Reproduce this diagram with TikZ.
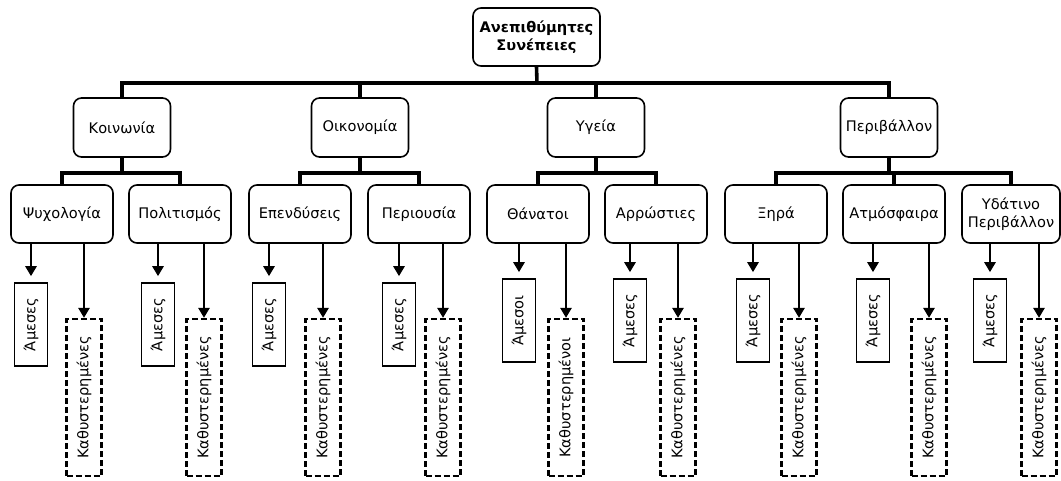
\documentclass[tikz,border=0pt]{standalone}
\usepackage{fontspec}
\setmainfont{DejaVu Sans}
\usetikzlibrary{arrows.meta}
\begin{document}
\begin{tikzpicture}[x=1pt,y=-1pt,
  font=\fontsize{14.6}{18}\selectfont,
  line join=miter,
  topbox/.style={draw, line width=1.6pt, rounded corners=8pt, inner sep=0pt,
    align=center, minimum width=127pt, minimum height=58pt, font=\fontsize{14.6}{18}\selectfont\bfseries},
  catbox/.style={draw, line width=1.6pt, rounded corners=8pt, inner sep=0pt,
    align=center, minimum width=97pt, minimum height=59pt},
  subbox/.style={draw, line width=1.6pt, rounded corners=8pt, inner sep=0pt,
    align=center, minimum height=58pt},
  directbox/.style={draw, line width=1.6pt, inner sep=0pt,
    minimum width=33pt, minimum height=83pt},
  delaybox/.style={draw, line width=2.2pt, dash pattern=on 6pt off 3pt, inner sep=0pt,
    minimum width=35pt, minimum height=157pt},
  bus/.style={line width=3.6pt},
  arr/.style={line width=2.6pt, -{Triangle[width=11pt,length=10pt]}}
]
\useasboundingbox (0,0) rectangle (1061,480);

% root
\node[topbox] (top) at (536.5,37) {Ανεπιθύμητες\\Συνέπειες};

% categories
\node[catbox] (c1) at (122,127.5) {Κοινωνία};
\node[catbox] (c2) at (360,127.5) {Οικονομία};
\node[catbox] (c3) at (596,127.5) {Υγεία};
\node[catbox] (c4) at (889,127.5) {Περιβάλλον};

% root to categories
\coordinate (topbus) at (537,83);
\draw[bus] (top.south) -- (topbus);
\draw[bus] (c1.north) |- (topbus) -| (c4.north);
\draw[bus] (c2.north) -- (c2.north |- topbus);
\draw[bus] (c3.north) -- (c3.north |- topbus);

% sub-categories with their direct and delayed effects
\foreach \i/\sx/\sw/\txt/\ax/\ay/\dx/\atxt/\dtxt in {
  1/62/102/{Ψυχολογία}/31/324.5/84/{Άμεσες}/{Καθυστερημένες},
  2/180/102/{Πολιτισμός}/158/324.5/204/{Άμεσες}/{Καθυστερημένες},
  3/300/102/{Επενδύσεις}/269/324.5/323/{Άμεσες}/{Καθυστερημένες},
  4/419/102/{Περιουσία}/399/324.5/443/{Άμεσες}/{Καθυστερημένες},
  5/538/102/{Θάνατοι}/519/320.5/566/{Άμεσοι}/{Καθυστερημένοι},
  6/656/102/{Αρρώστιες}/630/320.5/678/{Άμεσες}/{Καθυστερημένες},
  7/776/102/{Ξηρά}/753/320.5/799/{Άμεσες}/{Καθυστερημένες},
  8/894/102/{Ατμόσφαιρα}/873/320.5/929/{Άμεσες}/{Καθυστερημένες},
  9/1011/98/{Υδάτινο\\Περιβάλλον}/990/320.5/1039/{Άμεσες}/{Καθυστερημένες}}{
  \node[subbox, minimum width=\sw pt] (s\i) at (\sx,214) {\txt};
  \node[directbox] (a\i) at (\ax,\ay) {\rotatebox{90}{\atxt}};
  \node[delaybox] (d\i) at (\dx,397.5) {\rotatebox{90}{\dtxt}};
  \draw[arr, shorten >=6pt] (s\i.south -| a\i.north) -- (a\i.north);
  \draw[arr] (s\i.south -| d\i.north) -- (d\i.north);
}

% categories to sub-categories
\path (c1.south) ++(0,15) coordinate (b1);
\path (c2.south) ++(0,15) coordinate (b2);
\path (c3.south) ++(0,15) coordinate (b3);
\path (c4.south) ++(0,15) coordinate (b4);
\draw[bus] (c1.south) -- (b1);
\draw[bus] (s1.north) |- (b1) -| (s2.north);
\draw[bus] (c2.south) -- (b2);
\draw[bus] (s3.north) |- (b2) -| (s4.north);
\draw[bus] (c3.south) -- (b3);
\draw[bus] (s5.north) |- (b3) -| (s6.north);
\draw[bus] (c4.south) -- (b4);
\draw[bus] (s7.north) |- (b4) -| (s9.north);
\draw[bus] (s8.north) -- (s8.north |- b4);
\end{tikzpicture}
\end{document}
